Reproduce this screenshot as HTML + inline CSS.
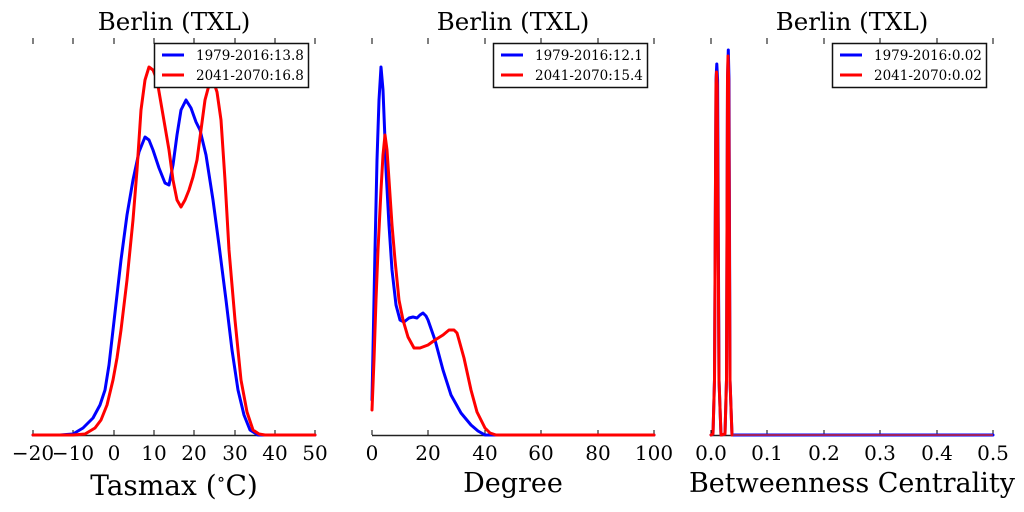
<!DOCTYPE html>
<html><head><style>
body{margin:0;background:#fff}
svg{display:block}
text{font-family:"DejaVu Serif","Liberation Serif",serif;fill:#000}
.t{font-size:24.5px}
.k{font-size:20px}
.l{font-size:13.5px}
.c{fill:none;stroke-width:3;stroke-linejoin:round;stroke-linecap:round}
</style></head><body>
<svg width="1024" height="512" viewBox="0 0 1024 512">
<g stroke="#000" stroke-width="1">
<path d="M33 38v6M73 38v6M114 38v6M154 38v6M194 38v6M235 38v6M275 38v6M315 38v6"/>
<path d="M372 38v6M428 38v6M485 38v6M541 38v6M598 38v6M654 38v6"/>
<path d="M711 38v6M767 38v6M824 38v6M880 38v6M937 38v6M993 38v6"/>
<path d="M33 430v5M73 430v5M114 430v5M154 430v5M194 430v5M235 430v5M275 430v5M315 430v5"/>
<path d="M372 430v5M428 430v5M485 430v5M541 430v5M598 430v5M654 430v5"/>
<path d="M711 430v5M767 430v5M824 430v5M880 430v5M937 430v5M993 430v5"/>
</g>
<g stroke="#222" stroke-width="1.5">
<path d="M33 435.5H315M372 435.5H654M711 435.5H993"/>
</g>
<polyline class="c" stroke="#00f" points="33,435 60,435 73,434 83,428 93,418 100,405 105,390 109,365 113,330 117,295 121,260 127,215 133,180 139,152 145,137 149,140 153,150 159,168 165,183 169,185 173,165 177,135 181,110 186,100 191,108 196,122 200,130 206,155 213,200 219,245 226,300 232,350 238,390 244,415 250,430 258,435 315,435"/>
<polyline class="c" stroke="#f00" points="33,435 73,435 85,434 95,428 101,420 107,405 113,380 117,358 121,330 127,280 133,220 137,170 141,110 145,80 149,67 153,70 157,80 163,115 169,150 173,180 177,200 181,207 185,200 189,190 193,177 197,160 201,130 205,100 209,85 213,80 217,92 221,120 225,180 229,250 235,320 241,380 247,412 253,430 259,434 265,435 315,435"/>
<polyline class="c" stroke="#00f" points="372,400 373,350 375,250 377,160 379,100 381,67 383,90 385,140 386,170 389,225 392,270 396,305 400,320 404,322 409,318 413,317 417,318 420,315 423,313 426,316 428,320 435,340 443,370 451,395 461,413 471,425 478,431 485,435 654,435"/>
<polyline class="c" stroke="#f00" points="372,410 374,360 376,300 378,250 381,190 383,155 385,135 387,150 389,180 392,225 395,260 399,300 403,320 408,337 414,348 420,348 428,345 435,340 443,335 449,330 454,330 457,333 459,340 464,358 471,390 477,412 485,428 490,433 496,435 654,435"/>
<path class="c" stroke="#00f" d="M711 435L713 434L714.5 380L716 80L716.8 64L717.6 80L719 380L721 435L725 434L726.5 380L727.5 80L728.3 50L729 80L730 380L732 435L993 435"/>
<path class="c" stroke="#f00" d="M711 435L713 434L714.5 380L716 85L716.5 72L717.2 85L719 380L721 435L725 434L726.5 380L727.5 80L728 56L728.7 80L730 380L732 435"/>
<path stroke="#a02060" stroke-width="2" d="M733 435H993"/>
<g fill="#fff" stroke="#111" stroke-width="1.5">
<rect x="154.5" y="43.5" width="154" height="44"/>
<rect x="493.5" y="43.5" width="154" height="44"/>
<rect x="832.5" y="43.5" width="154" height="44"/>
</g>
<g stroke-width="3">
<path stroke="#00f" d="M162 55h22M501 55h22M840 55h22"/>
<path stroke="#f00" d="M162 75h22M501 75h22M840 75h22"/>
</g>
<g>
<text x="196" y="60" class="l">1979-2016:13.8</text>
<text x="196" y="80" class="l">2041-2070:16.8</text>
<text x="535" y="60" class="l">1979-2016:12.1</text>
<text x="535" y="80" class="l">2041-2070:15.4</text>
<text x="874" y="60" class="l">1979-2016:0.02</text>
<text x="874" y="80" class="l">2041-2070:0.02</text>
</g>
<text class="t" x="174" y="30" text-anchor="middle">Berlin (TXL)</text>
<text class="t" x="513" y="30" text-anchor="middle">Berlin (TXL)</text>
<text class="t" x="852" y="30" text-anchor="middle">Berlin (TXL)</text>
<g class="k" text-anchor="middle">
<text x="33" y="460">−20</text><text x="73" y="460">−10</text><text x="114" y="460">0</text><text x="154" y="460">10</text><text x="194" y="460">20</text><text x="235" y="460">30</text><text x="275" y="460">40</text><text x="315" y="460">50</text>
<text x="372" y="460">0</text><text x="428" y="460">20</text><text x="485" y="460">40</text><text x="541" y="460">60</text><text x="598" y="460">80</text><text x="654" y="460">100</text>
<text x="711" y="460">0.0</text><text x="767" y="460">0.1</text><text x="824" y="460">0.2</text><text x="880" y="460">0.3</text><text x="937" y="460">0.4</text><text x="993" y="460">0.5</text>
</g>
<text x="174" y="495" text-anchor="middle" style="font-size:28px">Tasmax (<tspan style="font-size:18px" dy="-10">∘</tspan><tspan dy="10">C)</tspan></text>
<text x="513" y="492" text-anchor="middle" style="font-size:27px">Degree</text>
<text x="852" y="492" text-anchor="middle" style="font-size:27px">Betweenness Centrality</text>
</svg>
</body></html>
